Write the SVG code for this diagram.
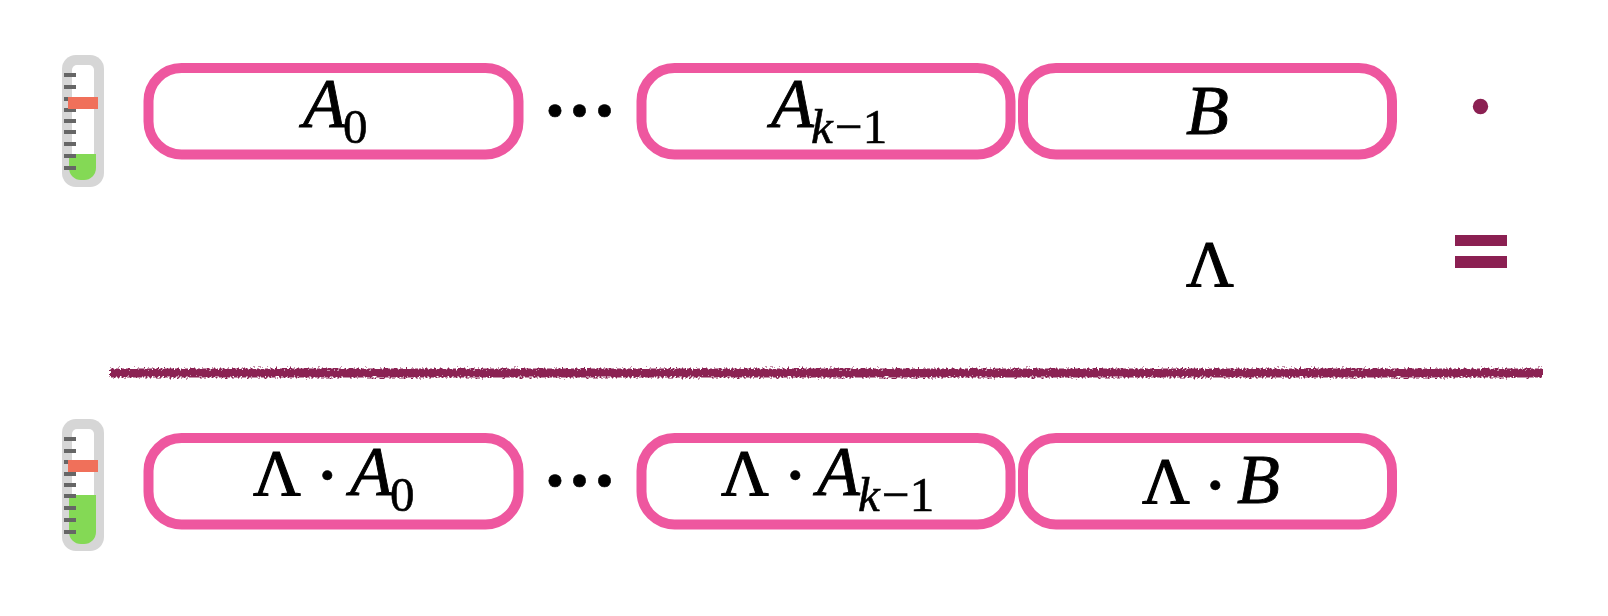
<svg xmlns="http://www.w3.org/2000/svg" width="1608" height="616" viewBox="0 0 1608 616">
<style>
.box{fill:#fff;stroke:#ee579f;stroke-width:10}
.g{fill:#d6d6d6}.w{fill:#fff}.gr{fill:#84d955}.r{fill:#f0705a}.t{fill:#666}
.p{fill:#8b2052}
text{font-family:"Liberation Serif","Times New Roman",serif;fill:#000;font-size:70px;stroke:#000;stroke-width:0.9px}
.i{font-style:italic}
.s{font-size:49px;stroke-width:0.6px}
.l{font-size:66px;stroke-width:1.1px}
.d{font-size:80px;stroke-width:0.6px}
.e{font-size:105px;stroke-width:0.6px}
</style>
<defs>
<filter id="rough" x="-2%" y="-100%" width="104%" height="300%">
<feTurbulence type="fractalNoise" baseFrequency="0.5" numOctaves="2" seed="4" result="n"/>
<feDisplacementMap in="SourceGraphic" in2="n" scale="7" xChannelSelector="R" yChannelSelector="G"/>
</filter>
</defs>
<rect width="1608" height="616" fill="#fff"/>
<g id="thermometer-top">
<rect class="g" x="62" y="55" width="42" height="132" rx="14"/>
<rect class="w" x="72" y="65" width="22" height="112" rx="5"/>
<path class="gr" d="M69 154H96V168a12 12 0 0 1-12 12H81a12 12 0 0 1-12-12Z"/>
<g class="t"><rect x="64" y="73" width="12" height="4"/><rect x="64" y="85" width="12" height="4"/><rect x="64" y="97" width="12" height="4"/><rect x="64" y="108" width="12" height="4"/><rect x="64" y="119" width="12" height="4"/><rect x="64" y="130" width="12" height="4"/><rect x="64" y="142" width="12" height="4"/><rect x="64" y="154" width="12" height="4"/><rect x="64" y="166" width="12" height="4"/></g>
<rect class="r" x="68" y="97" width="30" height="12"/>
</g>
<g id="box-a0"><rect class="box" x="148.5" y="68" width="370" height="86.500" rx="33"/>
<text class="i" x="303" y="127">A</text><text class="s" x="343" y="143">0</text></g>
<g id="dots-top"><text class="e" x="537.500 562 587" y="146">···</text></g>
<g id="box-ak"><rect class="box" x="641.5" y="68" width="369" height="86.500" rx="33"/>
<text class="i" x="771" y="127">A</text><text class="s i" x="811" y="143">k</text><text class="s" x="835" y="143">−1</text></g>
<g id="box-b"><rect class="box" x="1023" y="68" width="369" height="86.500" rx="33"/>
<text class="i" x="1186" y="134">B</text></g>
<g id="operators">
<circle class="p" cx="1480.5" cy="106.5" r="7.7"/>
<text class="l" x="1186" y="286">Λ</text>
<rect class="p" x="1455" y="235" width="52" height="11"/>
<rect class="p" x="1455" y="256" width="52" height="12"/>
</g>
<g id="connectors"><rect class="p" x="110" y="368.500" width="1433" height="9" filter="url(#rough)"/></g>
<g id="thermometer-bottom">
<rect class="g" x="62" y="419" width="42" height="132" rx="14"/>
<rect class="w" x="72" y="429" width="22" height="112" rx="5"/>
<path class="gr" d="M69 495H96V532a12 12 0 0 1-12 12H81a12 12 0 0 1-12-12Z"/>
<g class="t"><rect x="64" y="437" width="12" height="4"/><rect x="64" y="449" width="12" height="4"/><rect x="64" y="460" width="12" height="4"/><rect x="64" y="472" width="12" height="4"/><rect x="64" y="483" width="12" height="4"/><rect x="64" y="494" width="12" height="4"/><rect x="64" y="506" width="12" height="4"/><rect x="64" y="518" width="12" height="4"/><rect x="64" y="530" width="12" height="4"/></g>
<rect class="r" x="68" y="460" width="30" height="12"/>
</g>
<g id="box-la0"><rect class="box" x="148.5" y="438" width="370" height="86.500" rx="33"/>
<text class="l" x="253" y="495">Λ</text><text class="d" x="314" y="502">·</text><text class="i" x="350" y="495">A</text><text class="s" x="390" y="511">0</text></g>
<g id="dots-bottom"><text class="e" x="537.500 562 587" y="516">···</text></g>
<g id="box-lak"><rect class="box" x="641.5" y="438" width="369" height="86.500" rx="33"/>
<text class="l" x="721" y="495">Λ</text><text class="d" x="782" y="502">·</text><text class="i" x="817" y="495">A</text><text class="s i" x="858" y="511">k</text><text class="s" x="882" y="511">−1</text></g>
<g id="box-lb"><rect class="box" x="1023" y="438" width="369" height="86.500" rx="33"/>
<text class="l" x="1142" y="503">Λ</text><text class="d" x="1202" y="512">·</text><text class="i" x="1237" y="503">B</text></g>
</svg>
